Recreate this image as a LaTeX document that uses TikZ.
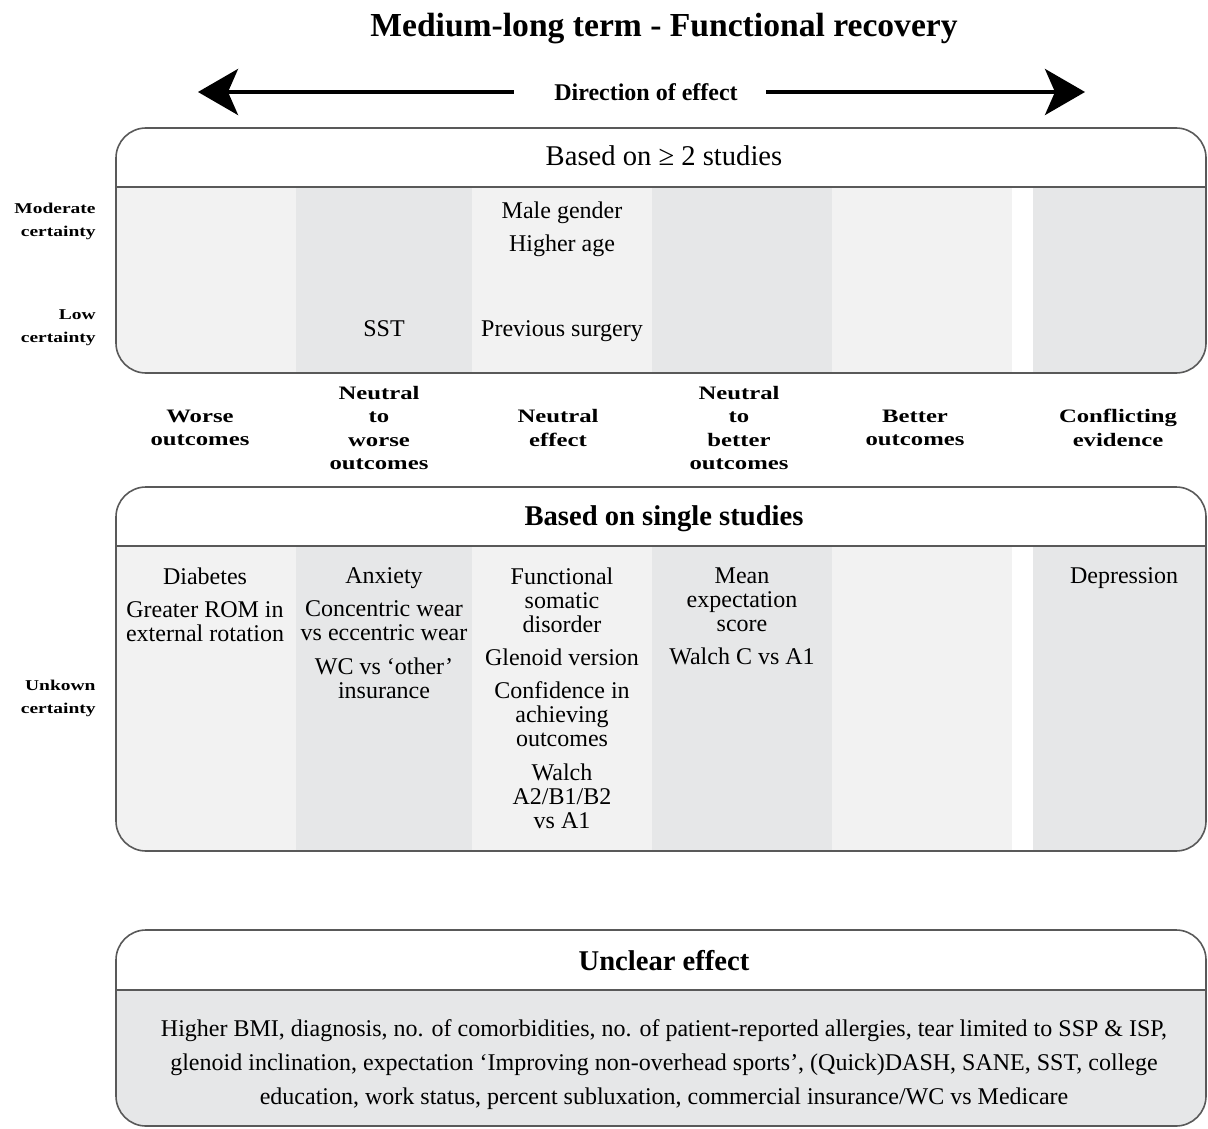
\documentclass[tikz,border=0pt]{standalone}
\usepackage{fontspec}
\setmainfont{Liberation Serif}
\newfontfamily\widefont[FakeStretch=1.3]{Liberation Serif}
\usetikzlibrary{arrows.meta}
\definecolor{colpale}{HTML}{F2F2F2}
\definecolor{coldark}{HTML}{E6E7E8}
\definecolor{rimgray}{HTML}{595959}

\begin{document}
\begin{tikzpicture}[x=0.5pt, y=-0.5pt,
	rim/.style={draw=rimgray, line width=0.8pt},
	cell/.style={align=center, inner sep=0pt, anchor=north, font=\fontsize{12}{12}\selectfont},
	colhead/.style={align=center, inner sep=0pt, font=\widefont\bfseries\fontsize{9.5}{11.7}\selectfont},
	rowhead/.style={align=right, inner sep=0pt, anchor=east, font=\widefont\bfseries\fontsize{7.5}{11.5}\selectfont},
	panelhead/.style={inner sep=0pt, anchor=base, font=\fontsize{14.3}{14.3}\selectfont},
	bigarrow/.style={line width=2pt, -{Stealth[length=20pt, width=23pt, inset=5pt]}}]
	\useasboundingbox (0,0) rectangle (1208,1128);
	\node[font=\bfseries\fontsize{16.8}{16.8}\selectfont] (title) at (664,29) {Medium-long term - Functional recovery};
	\node[font=\bfseries\fontsize{12}{12}\selectfont, inner sep=0pt] (dir) at (646,92) {Direction of effect};
	\coordinate (ltip) at (198,92); \coordinate (rtip) at (1085,92);
	\draw[bigarrow, shorten <=20pt] (dir.west) -- (ltip);
	\draw[bigarrow, shorten <=14pt] (dir.east) -- (rtip);

	\foreach \ya/\yb/\yc in {128/187/373, 487/546/851} {
		\begin{scope}
			\clip[rounded corners=15pt] (116,\ya) rectangle (1206,\yc);
			\foreach \xa/\xb/\tone in {116/296/colpale, 296/472/coldark, 472/652/colpale, 652/832/coldark, 832/1012/colpale, 1033/1206/coldark}
				\fill[\tone] (\xa,\yb) rectangle (\xb,\yc);
		\end{scope}
		\draw[rim, rounded corners=15pt] (116,\ya) rectangle (1206,\yc);
		\draw[rim] (116,\yb) -- (1206,\yb);
	}
	\begin{scope}
		\clip[rounded corners=15pt] (116,930) rectangle (1206,1126);
		\fill[coldark] (116,990) rectangle (1206,1126);
	\end{scope}
	\draw[rim, rounded corners=15pt] (116,930) rectangle (1206,1126);
	\draw[rim] (116,990) -- (1206,990);

	\node[panelhead] (hmulti) at (664,166) {Based on ≥ 2 studies};
	\node[panelhead, font=\bfseries\fontsize{14.3}{14.3}\selectfont] (hsingle) at (664,525) {Based on single studies};
	\node[panelhead, font=\bfseries\fontsize{14.3}{14.3}\selectfont] (hunclear) at (664,970) {Unclear effect};

	\node[rowhead] (moder) at (96,221) {Moderate\\certainty};
	\node[rowhead] (low) at (96,328) {Low\\certainty};
	\node[rowhead] (unkn) at (96,698) {Unkown\\certainty};

	\node[colhead] (worse) at (200,428) {Worse\\outcomes};
	\node[colhead] (ntow) at (379,428) {Neutral\\to\\worse\\outcomes};
	\node[colhead] (neutral) at (558,428) {Neutral\\effect};
	\node[colhead] (ntob) at (739,428) {Neutral\\to\\better\\outcomes};
	\node[colhead] (better) at (915,428) {Better\\outcomes};
	\node[colhead] (confl) at (1118,428) {Conflicting\\evidence};

	\node[cell] (male) at (562,201) {Male gender\\[4.7pt]Higher age};
	\node[cell] (sst) at (384,320) {SST};
	\node[cell] (prev) at (562,320) {Previous surgery};

	\node[cell] (diab) at (205,567) {Diabetes\\[4.7pt]Greater ROM in\\external rotation};
	\node[cell] (anx) at (384,567) {Anxiety\\[4.7pt]Concentric wear\\vs eccentric wear\\[4.7pt]WC vs `other'\\insurance};
	\node[cell] (func) at (562,567) {Functional\\somatic\\disorder\\[4.7pt]Glenoid version\\[4.7pt]Confidence in\\achieving\\outcomes\\[4.7pt]Walch\\A2/B1/B2\\vs A1};
	\node[cell] (mean) at (742,567) {Mean\\expectation\\score\\[4.7pt]Walch C vs A1};
	\node[cell] (depr) at (1124,567) {Depression};

	\node[cell, font=\fontsize{12}{17}\selectfont] (unclr) at (664,1019) {Higher BMI, diagnosis, no. of comorbidities, no. of patient-reported allergies, tear limited to SSP \& ISP,\\glenoid inclination, expectation `Improving non-overhead sports', (Quick)DASH, SANE, SST, college\\education, work status, percent subluxation, commercial insurance/WC vs Medicare};
\end{tikzpicture}
\end{document}
